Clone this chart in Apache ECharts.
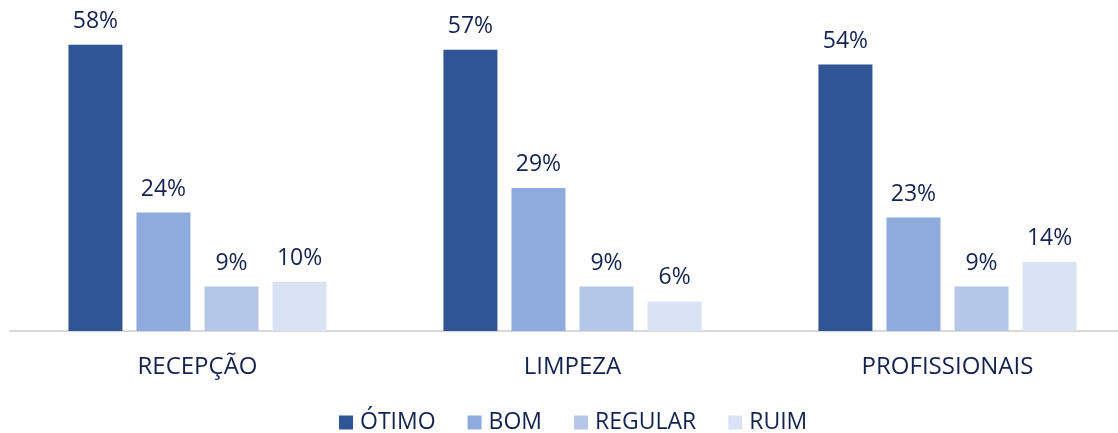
<!DOCTYPE html>
<html>
<head>
<meta charset="utf-8">
<script src="https://cdn.jsdelivr.net/npm/echarts@6/dist/echarts.min.js"></script>
<style>
  html, body { margin: 0; padding: 0; background: #fff; }
  #chart { width: 1118px; height: 433px; }
</style>
</head>
<body>
<div id="chart"></div>
<script>
// dados
const categorias = ['RECEPÇÃO', 'LIMPEZA', 'PROFISSIONAIS']
const nomesSeries = ['ÓTIMO', 'BOM', 'REGULAR', 'RUIM']
const otimo = [58, 57, 54]
const bom = [24, 29, 23]
const regular = [9, 9, 9]
const ruim = [10, 6, 14]

const cores = ['#2F5597', '#8FAADC', '#B4C7E7', '#DAE3F3']
const corTexto = '#14224F'
const fonte = '"Open Sans", "Noto Sans", sans-serif'

const chart = echarts.init(document.getElementById('chart'))

const valores = [otimo, bom, regular, ruim]
const series = nomesSeries.map((nome, i) => {
  return {
    name: nome,
    type: 'bar',
    data: valores[i],
    barWidth: 54,
    barGap: '26%',
    itemStyle: { color: cores[i] },
    label: {
      show: true,
      position: 'top',
      distance: 12,
      formatter: '{c}%',
      color: corTexto,
      fontSize: 23,
      fontFamily: fonte
    }
  }
})

const option = {
  animation: false,
  grid: {
    left: 10,
    width: 1125,
    top: 35,
    bottom: 102,
    outerBoundsMode: 'none'
  },
  legend: {
    data: nomesSeries,
    left: 334,
    top: 406,
    icon: 'rect',
    itemWidth: 14,
    itemHeight: 14,
    itemGap: 32,
    textStyle: {
      color: corTexto,
      fontSize: 23,
      fontFamily: fonte,
      padding: [0, 0, 0, 2]
    }
  },
  xAxis: {
    type: 'category',
    data: categorias,
    axisTick: { show: false },
    axisLine: { lineStyle: { color: '#D9D9D9', width: 2 } },
    axisLabel: {
      color: corTexto,
      fontSize: 24,
      fontFamily: fonte,
      margin: 24
    }
  },
  yAxis: {
    type: 'value',
    min: 0,
    max: 60,
    show: false,
    splitLine: { show: false }
  },
  series: series
}

chart.setOption(option)
</script>
</body>
</html>
